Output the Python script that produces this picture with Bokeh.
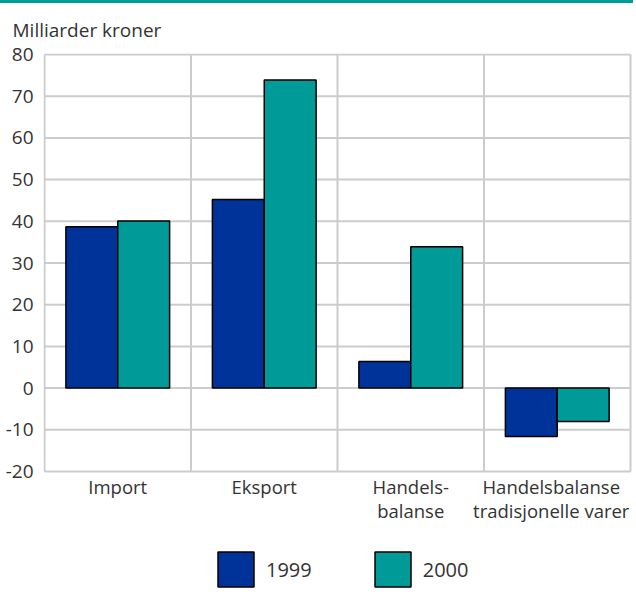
from bokeh.plotting import figure
from bokeh.models import (ColumnDataSource, FixedTicker, Legend, LegendItem,
                          Range1d)
from bokeh.core.properties import value
from bokeh.embed import file_html
from bokeh.resources import INLINE

categories = ["Import", "Eksport", "Handels-\nbalanse", "Handelsbalanse\ntradisjonelle varer"]
years = ["1999", "2000"]
values_1999 = [38.7, 45.2, 6.4, -11.6]
values_2000 = [40.1, 73.9, 33.9, -8.0]
y_ticks = [-20, -10, 0, 10, 20, 30, 40, 50, 60, 70, 80]
y_tick_labels = ["-20", "-10", "0", "10", "20", "30", "40", "50", "60", "70", "80"]

BLUE = "#003399"
TEAL = "#009b98"
FONT = "Open Sans"
TXT = "#333333"
GRID = "#cccccc"
FS = "19px"

n = len(categories)
y_min, y_max = y_ticks[0], y_ticks[-1]
centers = [i + 0.5 for i in range(n)]
bounds = list(range(n + 1))
bw = 0.354
# style: keep the widest (last) category label inside the drawing area
label_nudge_px = [0, 0, 0, -6]

# frame geometry (pixels) -> ranges: 146.5 px per category, 4.17 px per unit,
# while the legend area below the chart stays inside the frame
W, H = 633, 590
BL, BR, BT, BB = 43, 0, 46, 0
px_per_cat = 146.5
px_per_unit = 4.17
x_start = -1.0 / px_per_cat
x_end = x_start + (W - BL - BR) / px_per_cat
y_end = y_max + 1.0 / px_per_unit
y_start = y_end - (H - 4 - BT - BB) / px_per_unit

src = ColumnDataSource(dict(
    x1=[c - bw / 2 for c in centers],
    x2=[c + bw / 2 for c in centers],
    v1=values_1999,
    v2=values_2000,
))
lab_src = ColumnDataSource(dict(x=centers, y=[y_min] * n, text=categories,
                                dx=label_nudge_px))

p = figure(width=W, height=H, output_backend="svg", toolbar_location=None,
           x_range=Range1d(x_start, x_end), y_range=Range1d(y_start, y_end),
           x_axis_location=None,
           min_border_left=BL, min_border_right=BR, min_border_top=BT,
           min_border_bottom=BB)
p.styles = {"border-top": f"3px solid {TEAL}"}

p.title.text = "Milliarder kroner"
p.title.text_font = FONT
p.title.text_font_size = FS
p.title.text_font_style = "normal"
p.title.text_color = TXT
p.title.align = "left"
p.title.offset = -31
p.title.standoff = 22

# chart grid (bounded to the chart area)
p.segment(x0=[bounds[0]] * len(y_ticks), x1=[bounds[-1]] * len(y_ticks),
          y0=y_ticks, y1=y_ticks, line_color=GRID, line_width=2)
p.segment(x0=bounds, x1=bounds, y0=[y_min] * len(bounds),
          y1=[y_max] * len(bounds), line_color=GRID, line_width=2)

r1 = p.vbar(x="x1", top="v1", bottom=0, width=bw, source=src,
            fill_color=BLUE, line_color="black", line_width=1.5)
r2 = p.vbar(x="x2", top="v2", bottom=0, width=bw, source=src,
            fill_color=TEAL, line_color="black", line_width=1.5)

p.text(x="x", y="y", text="text", source=lab_src, text_align="center",
       text_baseline="top", x_offset="dx", y_offset=2, text_font=value(FONT),
       text_font_size="18.5px", text_color=TXT, text_line_height=0.97)

p.outline_line_color = None
p.background_fill_color = "white"
p.border_fill_color = "white"
p.xgrid.grid_line_color = None
p.ygrid.grid_line_color = None

# y axis
p.yaxis.ticker = FixedTicker(ticks=y_ticks)
p.yaxis.major_label_overrides = {t: s for t, s in zip(y_ticks, y_tick_labels)}
p.yaxis.axis_line_color = None
p.yaxis.major_tick_line_color = None
p.yaxis.minor_tick_line_color = None
p.yaxis.major_label_standoff = 4
p.yaxis.major_label_text_font = FONT
p.yaxis.major_label_text_font_size = FS
p.yaxis.major_label_text_color = TXT

legend = Legend(items=[LegendItem(label=years[0], renderers=[r1]),
                       LegendItem(label=years[1], renderers=[r2])],
                orientation="horizontal", location=(170, 2),
                glyph_width=45, glyph_height=44, spacing=58, label_standoff=8,
                padding=0, margin=0, border_line_alpha=0, background_fill_alpha=0,
                label_text_font=FONT, label_text_font_size="20px",
                label_text_color=TXT)
p.add_layout(legend, "center")

open("out.html", "w").write(file_html(p, INLINE))
